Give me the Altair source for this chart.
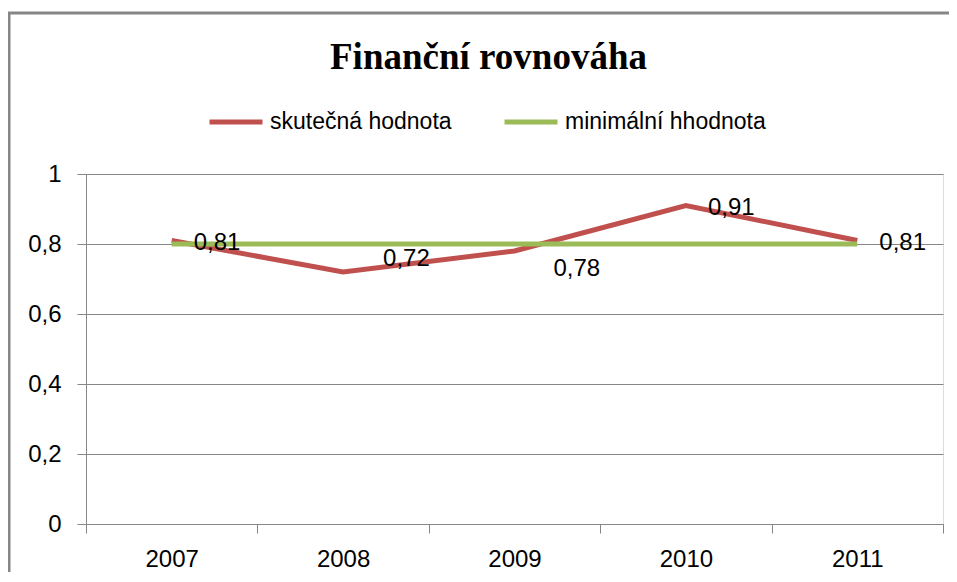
import altair as alt
import pandas as pd

# ---- data ----
years = ["2007", "2008", "2009", "2010", "2011"]
actual = [0.81, 0.72, 0.78, 0.91, 0.81]
minimum = [0.8, 0.8, 0.8, 0.8, 0.8]
series_names = ["skutečná hodnota", "minimální hhodnota"]
series_colors = ["#C0504D", "#9BBB59"]
y_ticks = [0, 0.2, 0.4, 0.6, 0.8, 1]
title_text = "Finanční rovnováha"

df = pd.DataFrame({
    "rok": years * 2,
    "hodnota": actual + minimum,
    "rada": [series_names[0]] * len(years) + [series_names[1]] * len(years),
})

FONT = "Liberation Sans"
GRAY = "#868686"

x_enc = alt.X(
    "rok:N",
    scale=alt.Scale(type="band", paddingInner=0, paddingOuter=0),
    axis=alt.Axis(
        title=None, labelAngle=0, tickBand="extent", grid=False,
        domainColor=GRAY, tickColor=GRAY, tickSize=9,
        labelFont=FONT, labelFontSize=24, labelColor="black", labelPadding=14,
    ),
)
y_enc = alt.Y(
    "hodnota:Q",
    scale=alt.Scale(domain=[0, 1], nice=False),
    axis=alt.Axis(
        title=None, values=y_ticks, grid=True, gridColor=GRAY, gridOpacity=1,
        domainColor=GRAY, tickColor=GRAY, tickSize=9,
        labelExpr="replace(format(datum.value, '~g'), '.', ',')",
        labelFont=FONT, labelFontSize=24, labelColor="black", labelPadding=16,
    ),
)
color_enc = alt.Color(
    "rada:N",
    scale=alt.Scale(domain=series_names, range=series_colors),
    legend=alt.Legend(
        orient="none", legendX=121, legendY=-81, direction="horizontal",
        title=None, symbolType="stroke", symbolSize=2809, symbolStrokeWidth=5,
        labelFont=FONT, labelFontSize=23, labelColor="black", labelOffset=5,
        labelLimit=400, columnPadding=42, padding=0,
    ),
)

base = alt.Chart(df)

border = alt.Chart(pd.DataFrame({"b": [0]})).mark_rect(
    fill="white", fillOpacity=0, stroke=GRAY, strokeWidth=3
).encode(
    x=alt.value(-77), x2=alt.value(880), y=alt.value(-161), y2=alt.value(420)
)

line_red = base.transform_filter(
    alt.datum.rada == series_names[0]
).mark_line(strokeWidth=5).encode(x=x_enc, y=y_enc, color=color_enc)

line_green = base.transform_filter(
    alt.datum.rada == series_names[1]
).mark_line(strokeWidth=5).encode(x=x_enc, y=y_enc, color=color_enc)

lab_base = base.transform_filter(
    alt.datum.rada == series_names[0]
).transform_calculate(
    lab="replace(format(datum.hodnota, '.2f'), '.', ',')"
)

labels_main = lab_base.transform_filter(
    alt.FieldOneOfPredicate(field="rok", oneOf=["2007", "2010", "2011"])
).mark_text(align="left", baseline="middle", dx=22, dy=2, font=FONT,
            fontSize=24, color="black").encode(x="rok:N", y="hodnota:Q", text="lab:N")

labels_2008 = lab_base.transform_filter(
    alt.datum.rok == "2008"
).mark_text(align="left", baseline="middle", dx=40, dy=-13, font=FONT,
            fontSize=24, color="black").encode(x="rok:N", y="hodnota:Q", text="lab:N")

labels_2009 = lab_base.transform_filter(
    alt.datum.rok == "2009"
).mark_text(align="left", baseline="middle", dx=39, dy=18, font=FONT,
            fontSize=24, color="black").encode(x="rok:N", y="hodnota:Q", text="lab:N")

chart = alt.layer(
    border, line_red, line_green, labels_main, labels_2008, labels_2009
).properties(
    width=857, height=350,
    padding={"left": 78, "top": 166, "right": 6, "bottom": 48},
    autosize=alt.AutoSizeParams(type="none"),
    title=alt.TitleParams(
        title_text, font="Liberation Serif", fontWeight="bold", fontSize=37,
        color="black", anchor="middle", frame="group", baseline="alphabetic",
        offset=-94, dx=-26,
    ),
).configure_view(stroke=None).configure(background="white")

chart.save("out.html", embed_options={"renderer": "svg", "actions": False})
